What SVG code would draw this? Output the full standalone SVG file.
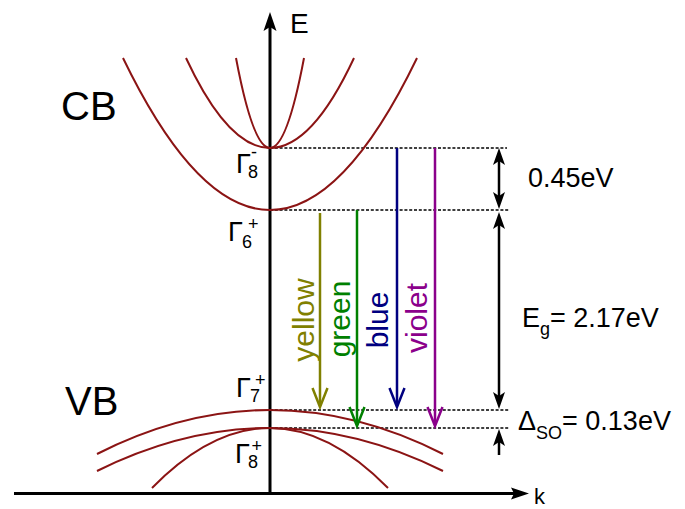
<svg xmlns="http://www.w3.org/2000/svg" xmlns:xlink="http://www.w3.org/1999/xlink" width="685" height="509" viewBox="0 0 685 509">
<style>
text{font-family:"Liberation Sans",Arial,sans-serif}
.band{fill:none;stroke:#8b1414;stroke-width:2}
.dash{stroke:#000;stroke-width:1.5;stroke-dasharray:3 1.8;fill:none}
.axis{stroke:#000;stroke-width:3;fill:none}
.dim{stroke:#000;stroke-width:2.5;fill:none}
.tr{fill:none;stroke-width:2.5}
.big{font-size:40px}
.lbl{font-size:27px}
.g{font-size:27px}
.s{font-size:18px}
.rot{font-size:30px}
</style>
<defs>
<path id="ah" d="M0,0 L6,17 L0,13 L-6,17 Z" fill="#000"/>
</defs>
<g id="axes">
<line class="axis" x1="270" y1="494" x2="270" y2="27"/>
<path d="M270,12 L276.5,31 L270,27 L263.5,31 Z" fill="#000"/>
<line class="axis" x1="14" y1="493.5" x2="514" y2="493.5"/>
<path d="M529,493.5 L511,487.5 L514,493.5 L511,499.5 Z" fill="#000"/>
<text x="290" y="33" style="font-size:28px">E</text>
<text x="534" y="504" style="font-size:22px">k</text>
</g>
<g id="levels">
<line class="dash" x1="270" y1="148" x2="507" y2="148"/>
<line class="dash" x1="270" y1="210" x2="510" y2="210"/>
<line class="dash" x1="270" y1="410" x2="510" y2="410"/>
<line class="dash" x1="270" y1="428" x2="510" y2="428"/>
</g>
<g id="conduction-band">
<path class="band" d="M123,58 Q270,362 417,58"/>
<path class="band" d="M186,58 Q270,238 354,58"/>
<path class="band" d="M236,58 Q270,238 304,58"/>
<text class="big" x="61" y="120">CB</text>
</g>
<g id="valence-band">
<path class="band" d="M97,454 Q270,366 443,454"/>
<path class="band" d="M97,471 Q270,385 443,471"/>
<path class="band" d="M152,488 Q270,368 388,488"/>
<text class="big" x="65" y="415">VB</text>
</g>
<g id="gamma8-minus">
<text class="g" x="236" y="173">Γ</text>
<text class="s" x="248" y="178">8</text>
<text class="s" x="251" y="158">-</text>
</g>
<g id="gamma6-plus">
<text class="g" x="228" y="241">Γ</text>
<text class="s" x="242" y="248">6</text>
<text class="s" x="248" y="230">+</text>
</g>
<g id="gamma7-plus">
<text class="g" x="236" y="397">Γ</text>
<text class="s" x="250" y="402">7</text>
<text class="s" x="255" y="386">+</text>
</g>
<g id="gamma8-plus">
<text class="g" x="235" y="463">Γ</text>
<text class="s" x="248" y="468">8</text>
<text class="s" x="251.5" y="452">+</text>
</g>
<g id="connectors">
<g id="yellow" stroke="#808000">
<line class="tr" x1="320" y1="213" x2="320" y2="405"/>
<path class="tr" d="M312.5,388 L320,407 L327.5,388"/>
<text class="rot" transform="translate(314,320) rotate(-90)" text-anchor="middle" stroke="none" fill="#808000">yellow</text>
</g>
<g id="green" stroke="#008000">
<line class="tr" x1="357" y1="210" x2="357" y2="424"/>
<path class="tr" d="M349.5,407 L357,426 L364.5,407"/>
<text class="rot" transform="translate(350,319) rotate(-90)" text-anchor="middle" stroke="none" fill="#008000">green</text>
</g>
<g id="blue" stroke="#000080">
<line class="tr" x1="397" y1="148" x2="397" y2="405"/>
<path class="tr" d="M389.5,388 L397,407 L404.5,388"/>
<text class="rot" transform="translate(388,320) rotate(-90)" text-anchor="middle" stroke="none" fill="#000080">blue</text>
</g>
<g id="violet" stroke="#8b008b">
<line class="tr" x1="435" y1="148" x2="435" y2="424"/>
<path class="tr" d="M427.5,407 L435,426 L442.5,407"/>
<text class="rot" transform="translate(427,318) rotate(-90)" text-anchor="middle" stroke="none" fill="#8b008b">violet</text>
</g>
<g id="dim-045">
<line class="dim" x1="499" y1="158" x2="499" y2="199"/>
<use xlink:href="#ah" transform="translate(499,148)"/>
<use xlink:href="#ah" transform="translate(499,209) rotate(180)"/>
</g>
<g id="dim-eg">
<line class="dim" x1="499" y1="222" x2="499" y2="399"/>
<use xlink:href="#ah" transform="translate(499,212)"/>
<use xlink:href="#ah" transform="translate(499,409) rotate(180)"/>
</g>
<g id="dim-so">
<line class="dim" x1="499" y1="440" x2="499" y2="455"/>
<use xlink:href="#ah" transform="translate(499,429)"/>
</g>
</g>
<g id="energy-labels">
<text class="lbl" x="528" y="187">0.45eV</text>
<text class="lbl" x="522" y="327">E<tspan class="s" dy="8">g</tspan><tspan dy="-8">= 2.17eV</tspan></text>
<text class="lbl" x="518" y="430">Δ<tspan class="s" dy="9">SO</tspan><tspan dy="-9">= 0.13eV</tspan></text>
</g>
</svg>
